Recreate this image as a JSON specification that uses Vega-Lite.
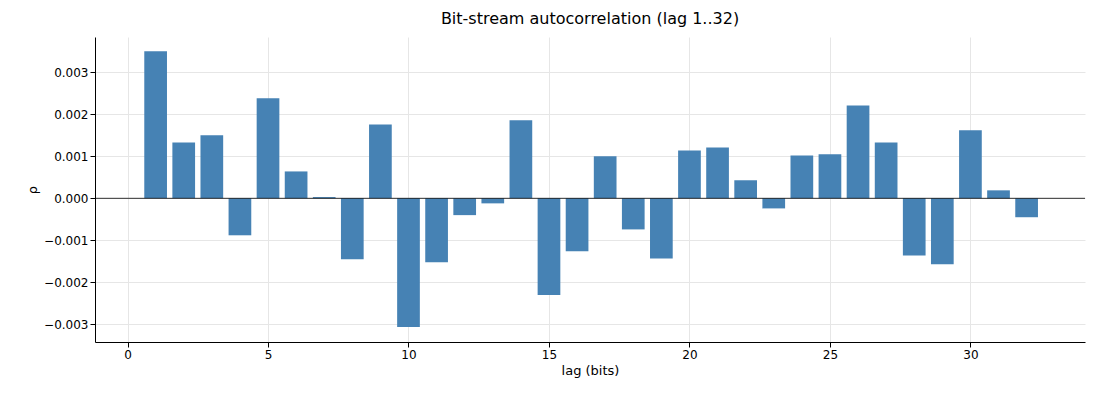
{
  "$schema": "https://vega.github.io/schema/vega-lite/v6.json",
  "width": 990,
  "height": 305,
  "autosize": "none",
  "padding": {"left": 95, "top": 37, "right": 15, "bottom": 58},
  "title": {"text": "Bit-stream autocorrelation (lag 1..32)", "font": "DejaVu Sans", "fontSize": 16, "fontWeight": "normal", "offset": 10},
  "config": {
    "font": "DejaVu Sans",
    "view": {"stroke": null},
    "axis": {"labelFont": "DejaVu Sans", "titleFont": "DejaVu Sans", "labelFontSize": 12, "titleFontSize": 13, "titleFontWeight": "normal", "gridColor": "#e6e6e6", "domainColor": "#000", "tickColor": "#000", "labelColor": "#000", "titleColor": "#000"}
  },
  "data": {"values": [
    {"lag": 1, "rho": 0.0035}, {"lag": 2, "rho": 0.00133}, {"lag": 3, "rho": 0.0015}, {"lag": 4, "rho": -0.00088},
    {"lag": 5, "rho": 0.00238}, {"lag": 6, "rho": 0.00064}, {"lag": 7, "rho": 0.00003}, {"lag": 8, "rho": -0.00145},
    {"lag": 9, "rho": 0.00176}, {"lag": 10, "rho": -0.00306}, {"lag": 11, "rho": -0.00152}, {"lag": 12, "rho": -0.0004},
    {"lag": 13, "rho": -0.00012}, {"lag": 14, "rho": 0.00186}, {"lag": 15, "rho": -0.0023}, {"lag": 16, "rho": -0.00126},
    {"lag": 17, "rho": 0.001}, {"lag": 18, "rho": -0.00074}, {"lag": 19, "rho": -0.00143}, {"lag": 20, "rho": 0.00114},
    {"lag": 21, "rho": 0.00121}, {"lag": 22, "rho": 0.00043}, {"lag": 23, "rho": -0.00024}, {"lag": 24, "rho": 0.00102},
    {"lag": 25, "rho": 0.00105}, {"lag": 26, "rho": 0.00221}, {"lag": 27, "rho": 0.00133}, {"lag": 28, "rho": -0.00136},
    {"lag": 29, "rho": -0.00157}, {"lag": 30, "rho": 0.00162}, {"lag": 31, "rho": 0.00019}, {"lag": 32, "rho": -0.00045}
  ]},
  "layer": [
    {
      "mark": {"type": "bar", "width": 22.7, "color": "#4682b4"},
      "encoding": {
        "x": {"field": "lag", "type": "quantitative", "title": "lag (bits)", "scale": {"domain": [-0.98, 33.9], "nice": false, "zero": false}, "axis": {"values": [0, 5, 10, 15, 20, 25, 30], "format": "d"}},
        "y": {"field": "rho", "type": "quantitative", "title": "ρ", "scale": {"domain": [-0.00342, 0.00384], "nice": false}, "axis": {"values": [-0.003, -0.002, -0.001, 0, 0.001, 0.002, 0.003], "format": ".3f"}}
      }
    },
    {
      "data": {"values": [{"y": 0}]},
      "mark": {"type": "rule", "color": "#000", "strokeWidth": 0.8},
      "encoding": {"y": {"field": "y", "type": "quantitative"}}
    }
  ]
}
